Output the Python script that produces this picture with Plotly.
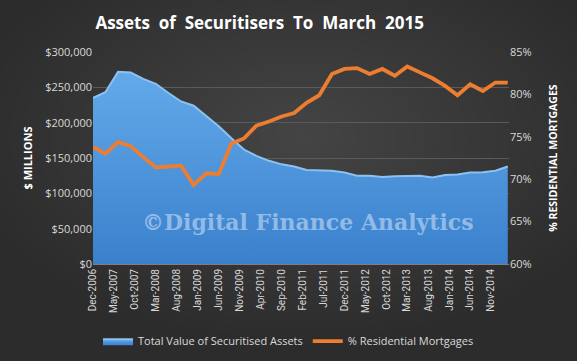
import plotly.graph_objects as go
import pandas as pd

quarters = pd.date_range("2006-12-01", "2015-03-01", freq="3MS").strftime("%Y-%m-%d").tolist()

total_assets = [235000, 243000, 272000, 271000, 262000, 255000, 242000, 230000, 224000, 209000,
                195000, 178000, 162000, 153000, 146000, 141000, 138000, 133000, 132000, 132000,
                129500, 125000, 125000, 123000, 124000, 124000, 125000, 122500, 126000, 126500,
                129500, 130000, 132000, 138000]

pct_residential = [73.8, 73.0, 74.4, 73.9, 72.6, 71.4, 71.5, 71.6, 69.3, 70.7,
                   70.6, 74.2, 74.8, 76.3, 76.8, 77.4, 77.8, 79.0, 79.9, 82.4,
                   83.0, 83.1, 82.4, 83.0, 82.2, 83.3, 82.6, 81.9, 81.0, 79.9,
                   81.2, 80.4, 81.4, 81.4]

left_ticks = [0, 50000, 100000, 150000, 200000, 250000, 300000]
right_ticks = [60, 65, 70, 75, 80, 85]
right_labels = [f"{v}%" for v in right_ticks]

fig = go.Figure()

# background glow (approximate radial gradient)
shapes = []
n = 24
for k in range(n):
    f = 1 - k / n
    cx, cy = 0.5, 0.6
    rx, ry = 0.8 * f, 0.95 * f
    shapes.append(dict(type="circle", xref="paper", yref="paper",
                       x0=cx - rx, x1=cx + rx, y0=cy - ry, y1=cy + ry,
                       fillcolor="rgba(255,255,255,0.0095)", line=dict(width=0),
                       layer="below"))

fig.add_trace(go.Scatter(
    x=quarters, y=total_assets, name="Total Value of Securitised Assets",
    mode="lines", fill="tozeroy", fillcolor="#4b93dc",
    fillgradient=dict(type="vertical", colorscale=[[0, "#3a80cc"], [1, "#62aaea"]]),
    line=dict(color="#8cc2f2", width=2), yaxis="y"))

fig.add_trace(go.Scatter(
    x=quarters, y=pct_residential, name="% Residential Mortgages",
    mode="lines", line=dict(color="#ed7d31", width=3.8), yaxis="y2"))

font_fam = "Open Sans, Lato, sans-serif"

fig.update_layout(
    width=577, height=361,
    paper_bgcolor="#2c2c2c", plot_bgcolor="rgba(0,0,0,0)",
    margin=dict(l=93, r=68, t=52, b=97, autoexpand=False),
    shapes=shapes,
    title=dict(text="Assets  of  Securitisers  To  March  2015", x=0.45, xanchor="center",
               y=0.935, yanchor="middle",
               font=dict(family=font_fam, size=17, color="white", weight="bold")),
    xaxis=dict(type="date", range=["2006-12-01", "2015-03-10"], automargin=False,
               tick0="2006-12-01", dtick="M5", tickformat="%b-%Y",
               tickangle=-90, tickfont=dict(family="Liberation Sans Narrow, Roboto, sans-serif", size=10, color="#d9d9d9"),
               showgrid=False, showline=True, linecolor="#7f7f7f", ticks="", zeroline=False),
    yaxis=dict(range=[0, 300000], tickvals=left_ticks, tickformat="$,.0f", automargin=False,
               tickfont=dict(family=font_fam, size=11, color="#d9d9d9"),
               showgrid=True, gridcolor="#5a5a5a", gridwidth=1, zeroline=False,
               title=dict(text="$ MILLIONS", font=dict(family=font_fam, size=11, color="white", weight="bold"),
                          standoff=10)),
    yaxis2=dict(range=[60, 85], tickvals=right_ticks, ticktext=right_labels, automargin=False,
                overlaying="y", side="right", showgrid=False, zeroline=False,
                tickfont=dict(family=font_fam, size=11, color="#d9d9d9"),
                title=dict(text="% RESIDENTIAL MORTGAGES",
                           font=dict(family=font_fam, size=10.5, color="white", weight="bold"),
                           standoff=18)),
    legend=dict(orientation="h", x=0.47, xanchor="center", yref="container", y=0.055, yanchor="middle",
                font=dict(family=font_fam, size=11, color="#d9d9d9"),
                bgcolor="rgba(0,0,0,0)", itemwidth=30),
    annotations=[dict(text="©Digital Finance Analytics", xref="paper", yref="paper",
                      x=0.517, y=0.2, yanchor="middle", showarrow=False,
                      font=dict(family="DejaVu Serif, serif", size=22, color="rgba(200,222,245,0.6)",
                                weight="bold"))],
)

fig.write_html("out.html", config={"displayModeBar": False},
               post_script="document.body.style.margin='0';")
